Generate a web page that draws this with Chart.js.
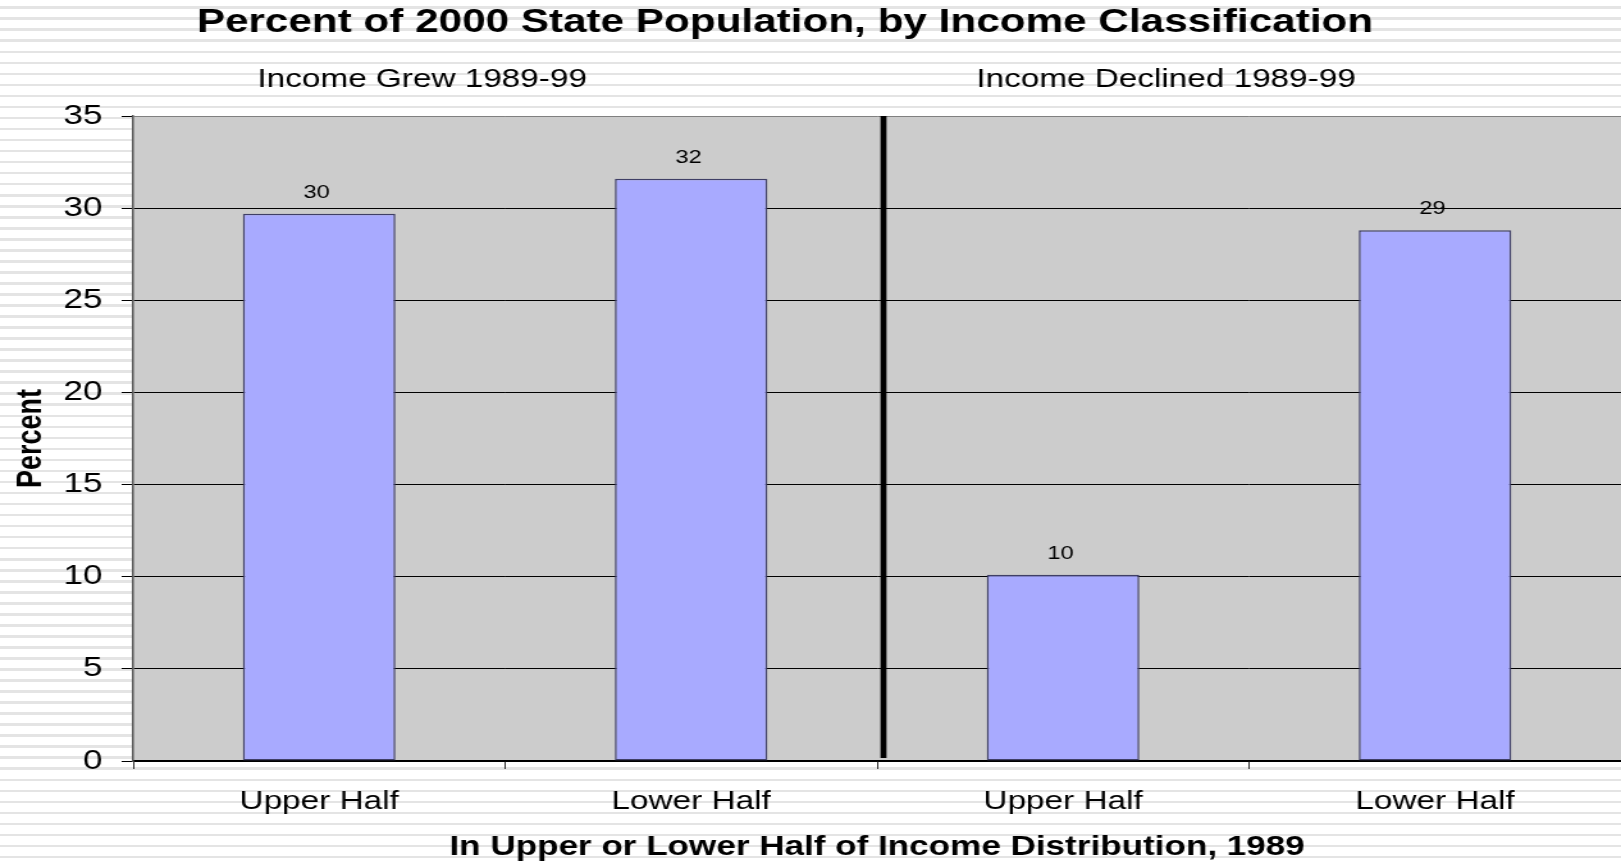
<!DOCTYPE html>
<html>
<head>
<meta charset="utf-8">
<title>Percent of 2000 State Population, by Income Classification</title>
<script src="https://cdn.jsdelivr.net/npm/chart.js@4"></script>
<style>
  html, body { margin: 0; padding: 0; overflow: hidden; }
  body {
    width: 1621px;
    height: 864px;
    /* ruled paper backdrop */
    background: repeating-linear-gradient(to bottom,
      #ffffff 0px, #ffffff 6.4px,
      #e4e4e4 6.4px, #e4e4e4 9px,
      #ffffff 9px, #ffffff 11.03px);
  }
</style>
</head>
<body>
<!-- canvas is drawn narrower and widened by its inline style, which gives the wide lettering -->
<canvas id="incomeChart" width="1266" height="864" style="display:block;width:1621px;height:864px"></canvas>
<script>
const chartTitle = 'Percent of 2000 State Population, by Income Classification';
const xAxisTitle = 'In Upper or Lower Half of Income Distribution, 1989';
const yAxisTitle = 'Percent';
const categories = ['Upper Half', 'Lower Half', 'Upper Half', 'Lower Half'];
const groupLabels = ['Income Grew 1989-99', 'Income Declined 1989-99'];
const percentValues = [29.7, 31.6, 10.1, 28.8];
const yMin = 0;
const yMax = 35;
const yStep = 5;

const FONT = '"Liberation Sans", Arial, sans-serif';
Chart.defaults.font.family = FONT;
Chart.defaults.color = '#000';

// Grey fill behind the plot area
const plotBackdrop = {
  id: 'plotBackdrop',
  beforeDraw(chart) {
    const { ctx, chartArea: a } = chart;
    ctx.save();
    ctx.fillStyle = '#cccccc';
    ctx.fillRect(a.left, a.top, a.right - a.left, a.bottom - a.top);
    ctx.restore();
  }
};

// Title, group headings, divider and value labels
const headings = {
  id: 'headings',
  afterDraw(chart) {
    const { ctx, chartArea: a, scales: { x } } = chart;
    const catWidth = x.getPixelForValue(1) - x.getPixelForValue(0);
    ctx.save();
    ctx.fillStyle = '#000';
    ctx.textAlign = 'center';
    ctx.textBaseline = 'middle';

    ctx.font = `bold 33px ${FONT}`;
    ctx.fillText(chartTitle, chart.width / 2 - 20, 23);

    ctx.font = `26px ${FONT}`;
    groupLabels.forEach((label, g) => {
      const mid = (x.getPixelForValue(g * 2) + x.getPixelForValue(g * 2 + 1)) / 2;
      ctx.fillText(label, mid - catWidth * 0.223, 80);
    });

    // thick rule splitting the two groups
    const divX = (x.getPixelForValue(1) + x.getPixelForValue(2)) / 2 + 5;
    ctx.strokeStyle = '#000';
    ctx.lineWidth = 4.7;
    ctx.beginPath();
    ctx.moveTo(divX, a.top);
    ctx.lineTo(divX, a.bottom - 3);
    ctx.stroke();

    ctx.font = `18.5px ${FONT}`;
    chart.getDatasetMeta(0).data.forEach((bar, i) => {
      ctx.fillText(String(Math.round(percentValues[i])), bar.x - 2, bar.y - 21);
    });
    ctx.restore();
  }
};

new Chart(document.getElementById('incomeChart'), {
  type: 'bar',
  data: {
    labels: categories,
    datasets: [{
      data: percentValues,
      backgroundColor: '#a8aaff',
      borderColor: '#3f3f66',
      borderWidth: 1.5,
      borderSkipped: false,
      categoryPercentage: 1,
      barPercentage: 0.41
    }]
  },
  options: {
    responsive: false,
    devicePixelRatio: 1,
    animation: false,
    layout: { padding: { top: 116, left: 0, right: 0, bottom: 0 } },
    plugins: {
      legend: { display: false },
      tooltip: { enabled: false },
      title: { display: false }
    },
    scales: {
      x: {
        afterFit(scale) { scale.height = 103; },
        grid: {
          offset: true,
          drawOnChartArea: false,
          drawTicks: true,
          tickLength: 8,
          color: '#333'
        },
        border: { color: '#000', width: 1.5 },
        ticks: {
          color: '#000',
          font: { size: 26 },
          padding: 17,
          maxRotation: 0,
          autoSkip: false
        },
        title: {
          display: true,
          text: xAxisTitle,
          color: '#000',
          font: { size: 27.4, weight: 'bold' },
          padding: { top: 1, bottom: 0 }
        }
      },
      y: {
        min: yMin,
        max: yMax,
        afterFit(scale) { scale.width = 104; },
        grid: {
          color: ctx => (ctx.tick && ctx.tick.value === yMax ? '#808080' : '#000'),
          lineWidth: 1,
          tickLength: 9,
          tickColor: '#000'
        },
        border: { color: '#555', width: 1.5 },
        ticks: {
          stepSize: yStep,
          color: '#000',
          font: { size: 27.5 },
          padding: 15
        },
        title: {
          display: true,
          text: yAxisTitle,
          color: '#000',
          font: { size: 27, weight: 'bold' },
          padding: { top: 8, bottom: 0 }
        }
      }
    }
  },
  plugins: [plotBackdrop, headings]
});
</script>
</body>
</html>
